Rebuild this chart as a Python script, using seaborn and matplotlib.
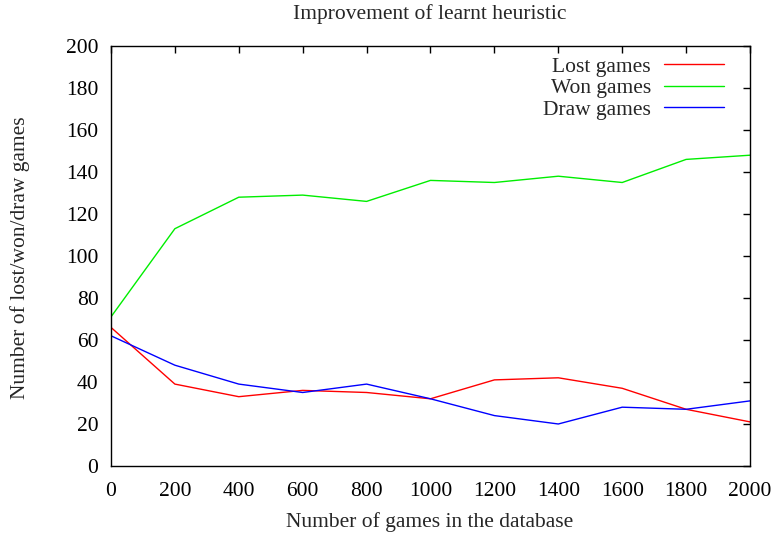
import matplotlib
matplotlib.use("Agg")
import matplotlib.pyplot as plt
import seaborn as sns
import pandas as pd

games = [0, 200, 400, 600, 800, 1000, 1200, 1400, 1600, 1800, 2000]
lost = [66, 39, 33, 36, 35, 32, 41, 42, 37, 27, 21]
won = [71, 113, 128, 129, 126, 136, 135, 138, 135, 146, 148]
draw = [62, 48, 39, 35, 39, 32, 24, 20, 28, 27, 31]

series_names = ["Lost games", "Won games", "Draw games"]
series_colors = ["#ff0000", "#00ee00", "#0000ff"]

df = pd.DataFrame({"games": games * 3,
                   "value": lost + won + draw,
                   "series": sum([[n] * len(games) for n in series_names], [])})

sns.set_style("white")
plt.rcParams["font.family"] = ["Liberation Serif", "DejaVu Serif"]
FS = 15.5

fig = plt.figure(figsize=(7.76, 5.35), dpi=100)
ax = fig.add_axes([0.143, 0.129, 0.8235, 0.785])

sns.lineplot(data=df, x="games", y="value", hue="series",
             palette=dict(zip(series_names, series_colors)),
             linewidth=1.0, ax=ax, legend=True)

ax.set_xlim(0, 2000)
ax.set_ylim(0, 200)
ax.set_xticks(range(0, 2001, 200))
ax.set_yticks(range(0, 201, 20))
ax.tick_params(direction="in", length=5, width=1, top=True, right=True,
               labelsize=FS, colors="black")
ax.tick_params(axis="x", pad=11.5)
ax.tick_params(axis="y", pad=9)
for s in ax.spines.values():
    s.set_visible(True)
    s.set_color("black")
    s.set_linewidth(1.0)

ax.set_xlabel("")
ax.set_ylabel("")
fig.text(430 / 776, 1 - 522 / 535, "Number of games in the database",
         fontsize=FS, ha="center", va="center")
fig.text(20 / 776, 1 - 258 / 535, "Number of lost/won/draw games",
         fontsize=FS, ha="center", va="center", rotation=90)
fig.text(430 / 776, 1 - 14 / 535, "Improvement of learnt heuristic",
         fontsize=FS, ha="center", va="center")

leg = ax.legend(loc="upper right", frameon=False, markerfirst=False,
                fontsize=FS, handlelength=2.8, handletextpad=0.6,
                labelspacing=0.07, borderaxespad=0.0,
                bbox_to_anchor=(0.973, 0.995))

fig.savefig("out.png", dpi=100)
